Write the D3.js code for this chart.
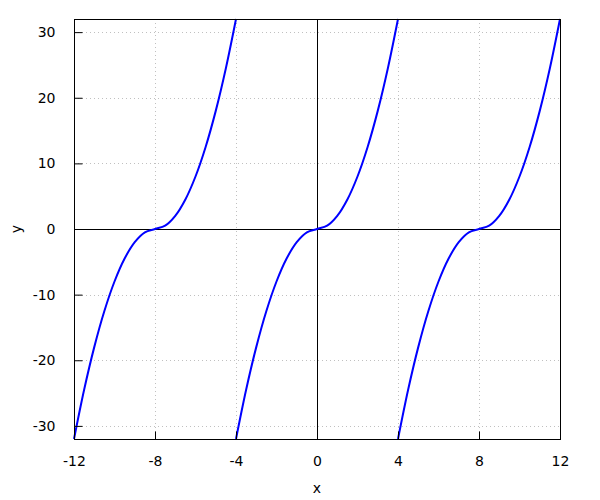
<!DOCTYPE html>
<html><head><meta charset="utf-8">
<script src="https://cdn.jsdelivr.net/npm/d3@7"></script>
<style>body{margin:0;background:#fff}svg{display:block}text{font-family:"DejaVu Sans",sans-serif;font-size:14px;fill:#000}</style>
</head><body><svg id="c" width="600" height="500"></svg>
<script>
const xTicks = [-12,-8,-4,0,4,8,12];
const yTicks = [-30,-20,-10,0,10,20,30];
const xA = [-12,-11.5,-11,-10.5,-10,-9.5,-9,-8.5,-8,-7.5,-7,-6.5,-6,-5.5,-5,-4.5,-4];
const yA = [-32,-24.5,-18,-12.5,-8,-4.5,-2,-0.5,0,0.5,2,4.5,8,12.5,18,24.5,32];
const xB = [-4,-3.5,-3,-2.5,-2,-1.5,-1,-0.5,0,0.5,1,1.5,2,2.5,3,3.5,4];
const yB = [-32,-24.5,-18,-12.5,-8,-4.5,-2,-0.5,0,0.5,2,4.5,8,12.5,18,24.5,32];
const xC = [4,4.5,5,5.5,6,6.5,7,7.5,8,8.5,9,9.5,10,10.5,11,11.5,12];
const yC = [-32,-24.5,-18,-12.5,-8,-4.5,-2,-0.5,0,0.5,2,4.5,8,12.5,18,24.5,32];

const L=74,R=560,T=19,B=439;
const svg=d3.select("#c");
const x=d3.scaleLinear().domain([-12,12]).range([L,R]);
const y=d3.scaleLinear().domain([-32,32]).range([B,T]);

// grid
const g=svg.append("g");
g.selectAll(".gx").data(xTicks).join("line").attr("x1",d=>Math.round(x(d))+0.5).attr("x2",d=>Math.round(x(d))+0.5)
 .attr("y1",T).attr("y2",B).attr("stroke","#c0c0c0").attr("stroke-width",1).attr("stroke-dasharray","1,3");
g.selectAll(".gy").data(yTicks).join("line").attr("y1",d=>Math.round(y(d))+0.5).attr("y2",d=>Math.round(y(d))+0.5)
 .attr("x1",L).attr("x2",R).attr("stroke","#c0c0c0").attr("stroke-width",1).attr("stroke-dasharray","1,3");

// zero axes
svg.append("line").attr("x1",L).attr("x2",R).attr("y1",Math.round(y(0))+0.5).attr("y2",Math.round(y(0))+0.5).attr("stroke","#000");
svg.append("line").attr("y1",T).attr("y2",B).attr("x1",Math.round(x(0))+0.5).attr("x2",Math.round(x(0))+0.5).attr("stroke","#000");

// curves
const line=d3.line().x(d=>x(d[0])).y(d=>y(d[1])).curve(d3.curveCatmullRom.alpha(0.5));
[[xA,yA],[xB,yB],[xC,yC]].forEach(([xs,ys])=>{
  svg.append("path").datum(xs.map((v,i)=>[v,ys[i]])).attr("d",line)
   .attr("fill","none").attr("stroke","#0000ff").attr("stroke-width",2);
});

// box
svg.append("rect").attr("x",L+0.5).attr("y",T+0.5).attr("width",R-L).attr("height",B-T)
 .attr("fill","none").attr("stroke","#000").attr("stroke-width",1);

// axes ticks (inside) and labels
const fmt=d=>String(d);
const xa=d3.axisBottom(x).tickValues(xTicks).tickFormat(fmt).tickSizeInner(-8).tickSizeOuter(0).tickPadding(17);
const ya=d3.axisLeft(y).tickValues(yTicks).tickFormat(fmt).tickSizeInner(-8).tickSizeOuter(0).tickPadding(19);
const gx=svg.append("g").attr("transform",`translate(0,${B+0.5})`).call(xa);
const gy=svg.append("g").attr("transform",`translate(${L+0.5},0)`).call(ya);
[gx,gy].forEach(a=>{a.select(".domain").remove();a.selectAll("line").attr("stroke","#000");
 a.selectAll("text").style("font-family","DejaVu Sans").style("font-size","14px").attr("fill","#000");});

svg.append("text").attr("x",317).attr("y",493).attr("text-anchor","middle").text("x");
svg.append("text").attr("transform","translate(21,229) rotate(-90)").attr("text-anchor","middle").text("y");
</script></body></html>
